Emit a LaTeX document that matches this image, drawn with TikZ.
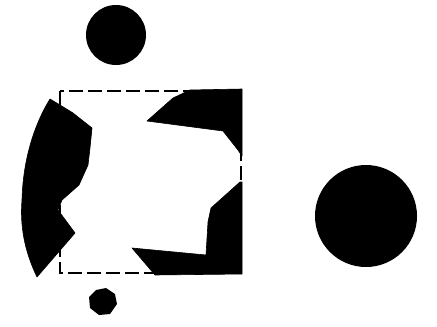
\documentclass[tikz,border=0pt]{standalone}
\begin{document}
\begin{tikzpicture}[x=1pt,y=-1pt,
  blob/.style={fill=black,draw=black,line width=0.6pt,line join=round},
  frame/.style={draw=black,line width=1.1pt,dash pattern=on 14pt off 5pt}]
\useasboundingbox[fill=white] (0,0) rectangle (437,327);
% dashed frame
\draw[frame] (60,91) rectangle (241,273);
% left blob
\path[blob] (50,99) -- (60,105) -- (73,113) -- (92,128) -- (90,148) -- (88,165)
  -- (79,185) -- (62,200) -- (58,210) -- (75,233) -- (37,277)
  .. controls (24,250) and (20,225) .. (22,200)
  .. controls (23,160) and (34,125) .. (50,99) -- cycle;
% top-right blob
\path[blob] (147,121) -- (173,98) -- (190,90) -- (242,89) -- (242,156)
  -- (238,150) -- (223,131) -- cycle;
% bottom-right blob
\path[blob] (240,182) -- (242,182) -- (242,274) -- (155,275) -- (132,248)
  -- (206,255) -- (208,222) -- (211,208) -- cycle;
% circles
\fill (116,35) circle[radius=30];
\fill (366,216) circle[radius=51];
\fill (96,290) -- (106,288) -- (115,294) -- (117,304) -- (110,314) -- (99,315) -- (90,308) -- (89,297) -- cycle;
\end{tikzpicture}
\end{document}
